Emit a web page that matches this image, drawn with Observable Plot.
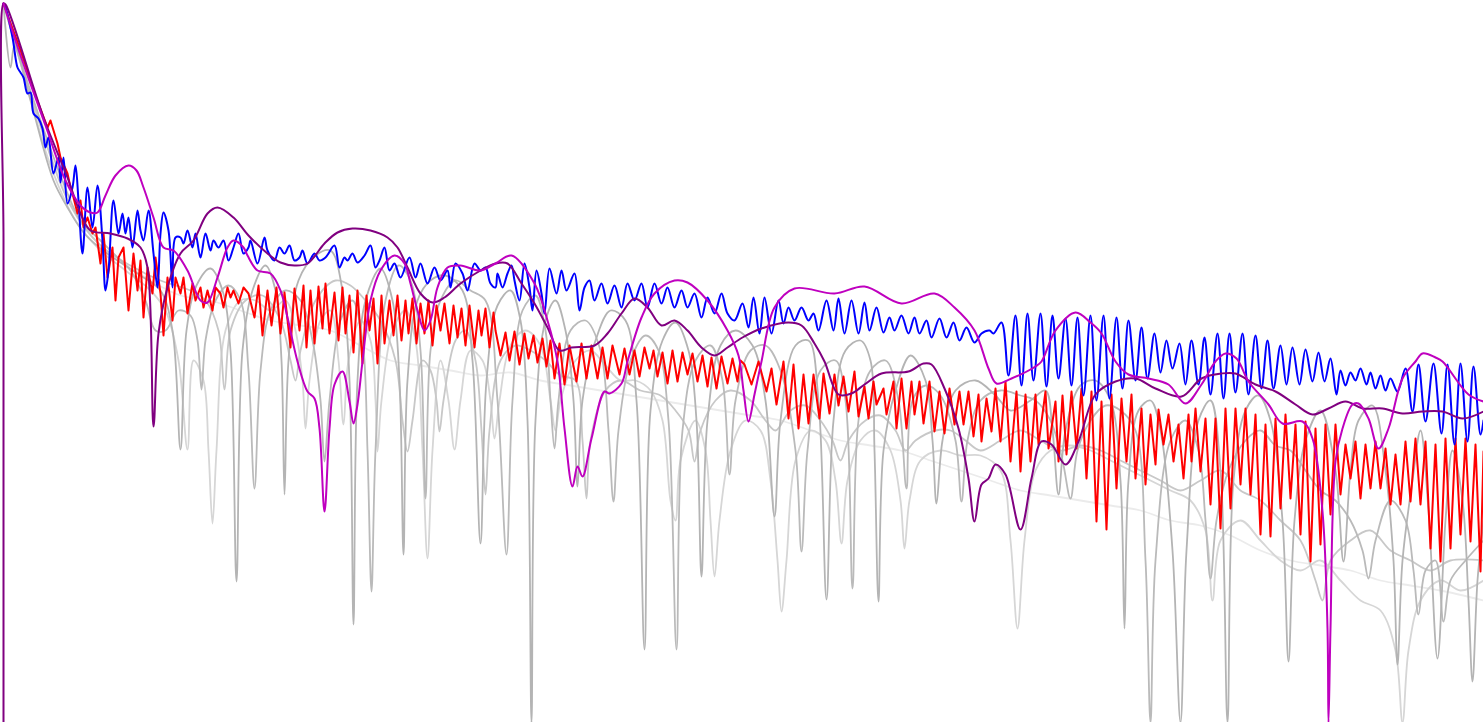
<!DOCTYPE html>
<html><head><meta charset="utf-8">
<script src="https://cdn.jsdelivr.net/npm/d3@7"></script>
<script src="https://cdn.jsdelivr.net/npm/@observablehq/plot@0.6"></script>
<style>html,body{margin:0;padding:0;background:#fff;overflow:hidden}</style>
</head><body><div id="chart"></div>
<script>
// Series values: [frequency, level] pairs (level grows downward)
const grayA = [[3,3],[10,67],[14,45],[30,100],[53,180],[67,207],[83,232],[100,248],[120,262],[140,275],[160,290],[172,330],[180,449],[186,330],[196,285],[210,268],[222,290],[230,350],[236,581],[242,350],[252,290],[265,265],[275,290],[281,360],[284,494],[288,360],[298,280],[315,255],[330,250],[342,290],[349,380],[353,624],[357,380],[365,300],[380,268],[392,300],[399,380],[403,554],[407,380],[417,300],[430,280],[445,275],[462,290],[472,360],[480,543],[486,380],[497,305],[510,290],[520,320],[527,420],[531,722],[535,420],[545,320],[555,300],[565,330],[573,400],[577,486],[582,400],[595,340],[610,310],[625,320],[636,400],[644,649],[650,410],[662,340],[675,322],[688,350],[696,420],[701,576],[707,420],[720,345],[735,330],[752,345],[765,400],[774,516],[780,420],[795,345],[808,340],[818,400],[826,599],[833,420],[845,350],[860,340],[870,360],[874,450],[878,601],[883,450],[895,390],[910,355],[925,380],[932,440],[936,503],[942,440],[955,390],[975,380],[995,395],[1010,410],[1030,400],[1045,390],[1052,430],[1058,494],[1065,430],[1080,385],[1095,380],[1110,400],[1120,480],[1124,628],[1128,480],[1138,410],[1150,400],[1160,430],[1172,550],[1180,722],[1186,550],[1198,420],[1210,400],[1220,470],[1227,722],[1233,480],[1245,410],[1258,395],[1270,420],[1282,520],[1288,661],[1294,520],[1305,440],[1320,410],[1335,470],[1343,561],[1350,470],[1358,420],[1372,405],[1385,470],[1393,560],[1397,664],[1402,560],[1412,480],[1420,430],[1428,510],[1437,658],[1445,520],[1452,450],[1462,500],[1468,600],[1472,681],[1477,580],[1483,520]];

const grayB = [[3,3],[20,60],[40,120],[60,175],[80,220],[100,240],[115,255],[130,270],[145,300],[155,330],[165,330],[178,310],[190,315],[197,340],[201,389],[205,340],[215,300],[228,285],[240,300],[248,370],[254,488],[260,370],[270,310],[285,290],[300,300],[312,340],[320,400],[324,461],[329,400],[340,320],[352,300],[362,340],[367,450],[371,591],[375,450],[385,300],[398,265],[410,280],[420,350],[425,498],[430,350],[440,300],[455,280],[470,290],[485,300],[497,400],[506,554],[512,400],[522,310],[535,295],[545,330],[550,400],[554,448],[558,400],[570,330],[585,320],[600,350],[608,430],[613,501],[618,430],[630,360],[645,335],[658,350],[668,420],[676,649],[682,430],[695,360],[710,345],[722,380],[729,474],[735,400],[750,350],[765,345],[780,370],[795,450],[801,551],[807,450],[820,370],[835,360],[845,400],[852,588],[858,420],[870,370],[885,360],[898,400],[906,488],[912,400],[925,385],[940,395],[955,440],[961,501],[967,440],[980,400],[1000,390],[1020,395],[1035,400],[1050,420],[1062,460],[1070,498],[1077,450],[1090,420],[1105,405],[1120,410],[1135,430],[1145,560],[1150,722],[1155,560],[1170,440],[1185,420],[1198,450],[1205,520],[1210,578],[1216,520],[1228,470],[1245,440],[1260,430],[1275,445],[1290,450],[1305,470],[1320,490],[1335,500],[1350,520],[1362,550],[1368,578],[1375,540],[1390,500],[1405,520],[1413,570],[1418,614],[1425,570],[1435,560],[1443,621],[1450,580],[1465,560],[1483,540]];

const grayC = [[3,3],[35,110],[70,205],[100,245],[130,265],[160,280],[190,290],[205,300],[218,330],[224,389],[230,330],[245,300],[262,295],[280,320],[290,360],[295,380],[300,350],[315,300],[335,280],[350,285],[365,300],[380,320],[395,360],[402,420],[407,451],[412,420],[422,360],[430,370],[436,400],[439,431],[443,400],[455,340],[465,330],[475,360],[481,430],[485,494],[489,430],[500,360],[515,345],[530,350],[545,360],[560,375],[575,380],[582,440],[586,498],[590,440],[605,390],[620,380],[640,390],[660,395],[675,410],[688,430],[694,461],[700,430],[715,400],[730,390],[750,400],[765,420],[775,430],[790,410],[805,405],[820,420],[832,440],[840,460],[848,440],[865,420],[880,415],[895,430],[905,450],[915,440],[935,430],[950,430],[965,440],[980,450],[1000,440],[1020,430],[1040,440],[1060,450],[1080,445],[1100,450],[1120,460],[1140,470],[1160,480],[1180,490],[1200,480],[1220,470],[1240,490],[1260,500],[1280,520],[1300,540],[1315,580],[1322,600],[1330,560],[1350,540],[1370,530],[1390,550],[1410,560],[1430,570],[1450,560],[1483,560]];

const grayD = [[3,3],[25,80],[50,165],[75,220],[100,250],[125,270],[150,290],[165,310],[178,360],[187,449],[193,360],[203,380],[208,450],[212,523],[216,450],[225,330],[240,300],[255,300],[270,310],[285,300],[295,330],[302,380],[305,428],[309,380],[320,320],[330,310],[338,360],[343,424],[348,360],[360,320],[370,340],[375,400],[377,451],[381,400],[392,330],[405,310],[415,340],[422,450],[427,558],[432,450],[440,360],[448,400],[454,449],[460,400],[470,350],[482,360],[490,400],[494,438],[499,400],[510,345],[525,330],[540,345],[550,400],[555,430],[560,400],[575,360],[590,350],[605,365],[620,380],[635,380],[650,390],[662,420],[670,500],[675,520],[680,460],[695,420],[705,450],[710,520],[714,576],[719,520],[730,450],[745,420],[760,430],[770,480],[777,560],[781,611],[786,560],[795,460],[810,430],[825,440],[835,480],[841,543],[847,480],[860,440],[875,430],[890,450],[900,500],[904,548],[909,500],[920,460],[940,450],[960,455],[980,455],[1000,470],[1010,540],[1017,628],[1024,540],[1035,470],[1050,450],[1070,445],[1090,450],[1110,460],[1130,470],[1150,480],[1170,490],[1190,500],[1205,530],[1212,600],[1220,540],[1240,520],[1260,540],[1280,560],[1300,570],[1320,560],[1340,580],[1360,600],[1380,610],[1395,650],[1402,722],[1408,650],[1420,600],[1440,580],[1460,590],[1483,580]];

const grayE = [[3,3],[30,95],[60,180],[90,235],[120,260],[150,280],[180,295],[210,300],[240,310],[270,320],[300,325],[330,330],[360,345],[390,360],[420,365],[450,370],[480,375],[510,372],[540,380],[570,385],[600,390],[630,395],[660,400],[690,405],[720,410],[750,415],[780,420],[810,430],[840,440],[870,445],[900,450],[930,460],[960,470],[990,480],[1020,490],[1050,495],[1080,500],[1110,505],[1140,510],[1170,520],[1200,525],[1230,535],[1260,550],[1290,560],[1320,565],[1350,570],[1380,580],[1410,585],[1440,590],[1483,600]];

const redSeries = [[3,3],[20,50],[35,95],[47,127],[50,120],[57,143],[60,157],[67,173],[70,187],[73,197],[77,213],[80,200],[83,227],[87,217],[92,233],[95,227],[100,263],[103,233],[107,277],[112,247],[115,300],[118,257],[123,247],[128,310],[133,253],[137,290],[140,260],[143,317],[147,267],[152,293],[155,257],[160,293],[163,335],[167,277],[172,320],[175,277],[180,293],[183,277],[187,313],[192,283],[195,300],[200,287],[203,307],[207,290],[212,310],[215,287],[220,293],[223,307],[227,287],[230,297],[233,290],[238,303],[243,287],[248,293],
[254,317],[258,285],[262,335],[267,290],[271,325],[276,287],[280,333],[284,292],[290,347],[294,288],[299,330],[303,285],[306,347],[310,290],[314,343],[318,286],[322,328],[325,283],[329,333],[334,292],[338,340],[342,287],[345,333],[349,295],[353,352],[357,290],[362,363],[366,295],[369,330],[373,298],[377,363],[381,295],[384,343],[389,300],[393,335],[397,295],[401,340],[405,300],[408,333],[412,298],[416,343],[420,303],[424,333],[428,300],[432,345],[436,305],[440,330],[444,303],[449,343],[453,305],[457,337],[461,308],[465,345],[469,305],[474,347],[478,310],[481,335],[485,308],[489,347],[493,312],
[495,330],[500,355],[505,332],[509,360],[514,331],[519,364],[524,333],[528,358],[533,335],[537,362],[542,338],[546,366],[550,340],[554,378],[559,343],[564,384],[569,345],[576,381],[581,343],[586,378],[591,345],[597,378],[602,347],[607,378],[612,345],[619,374],[624,348],[629,374],[634,350],[639,376],[644,347],[649,368],[653,350],[657,376],[662,352],[667,383],[672,350],[677,381],[682,352],[687,374],[692,353],[697,381],[702,355],[707,386],[711,357],[716,388],[721,356],[727,383],[732,358],[737,381],[740,360],
[744,364],[751,384],[758,361],[766,391],[771,368],[776,404],[783,361],[788,418],[793,364],[798,428],[803,374],[808,423],[813,374],[819,418],[823,373],[829,413],[834,374],[838,405],[843,376],[848,411],[854,371],[858,416],[864,386],[868,418],[873,381],[876,404],[883,388],[886,414],[893,381],[896,428],[901,378],[906,428],[911,381],[914,414],[919,381],[923,423],[929,381],[934,431],[939,391],[944,433],[949,388],[954,424],[959,391],[963,424],[968,391],[973,436],[978,394],[981,441],[986,398],
[991,431],[995,388],[1000,441],[1005,381],[1010,461],[1016,391],[1020,471],[1025,394],[1030,461],[1035,394],[1038,444],[1045,391],[1048,448],[1055,401],[1058,461],[1062,395],[1066,454],[1071,391],[1076,448],[1081,388],[1086,478],[1091,391],[1096,521],[1101,401],[1106,529],[1111,394],[1116,488],[1121,398],[1126,461],[1131,394],[1135,478],[1141,408],[1145,484],[1150,414],[1155,464],[1158,409],[1163,444],[1168,414],[1173,461],[1178,424],[1183,478],[1188,414],[1191,461],[1195,408],[1200,471],[1205,418],[1210,504],[1215,418],[1220,528],[1225,408],[1230,508],
[1235,408],[1240,484],[1245,408],[1250,494],[1255,414],[1260,534],[1265,424],[1270,536],[1275,418],[1280,508],[1285,414],[1290,498],[1295,424],[1300,534],[1305,421],[1310,561],[1315,428],[1320,544],[1325,424],[1330,514],[1335,424],[1340,494],[1345,444],[1350,478],[1355,441],[1360,498],[1365,444],[1370,488],[1375,441],[1380,488],[1385,448],[1390,504],[1395,454],[1400,504],[1405,441],[1410,501],[1415,438],[1420,504],[1425,441],[1430,548],[1435,444],[1440,561],[1445,438],[1450,548],[1455,438],[1460,534],[1465,438],[1470,541],[1475,444],[1480,571],[1483,451]];

const blueSeries = [[3,3],[5,7],[12,37],[17,67],[20,72],[23,77],[27,93],[30,92],[33,113],[38,118],[42,128],[45,147],[48,137],[53,173],[58,157],[60,182],[63,157],[67,203],[72,187],[75,165],[78,200],[82,253],[87,187],[92,227],[97,185],[102,240],[105,290],[108,270],[113,200],[118,233],[122,213],[125,233],[128,217],[132,247],[137,210],[140,230],[143,240],[148,210],[153,253],[157,287],[160,233],[163,212],[168,230],[172,287],[175,237],[180,237],[183,243],[187,230],[192,247],[195,233],[200,257],[205,233],[210,250],[213,240],[218,247],[223,240],[228,260],[233,247],[238,233],[243,253],[248,247],
[250,240],[257,263],[264,237],[267,250],[274,260],[279,247],[284,253],[289,245],[294,260],[299,257],[302,250],[307,263],[314,253],[319,260],[325,257],[334,245],[339,267],[344,257],[347,260],[352,253],[357,262],[364,255],[370,245],[375,267],[379,260],[384,247],[389,270],[394,263],[400,277],[409,257],[415,277],[420,263],[427,283],[434,267],[440,280],[447,270],[450,287],[455,263],[462,273],[467,290],[474,263],[480,270],[485,267],[490,283],[495,287],
[497,273],[502,287],[507,273],[511,265],[514,280],[519,300],[524,263],[529,287],[532,310],[536,270],[541,293],[544,313],[549,268],[556,293],[561,270],[566,290],[574,273],[579,310],[584,287],[589,280],[594,300],[601,283],[607,303],[614,285],[621,307],[627,283],[634,300],[641,283],[647,307],[654,283],[661,303],[667,287],[674,307],[681,290],[687,307],[694,293],[701,317],[707,297],[714,313],[721,293],[727,313],[734,320],[742,303],
[748,327],[753,297],[759,333],[764,297],[771,333],[778,300],[783,323],[788,307],[794,320],[801,307],[808,320],[813,313],[818,330],[826,300],[833,330],[838,298],[844,333],[851,300],[858,333],[864,302],[869,330],[876,307],[883,332],[889,317],[894,330],[901,315],[908,333],[914,317],[919,333],[926,320],[931,337],[939,318],[946,337],[953,322],[959,340],[966,327],[974,342],[981,333],[989,330],[993,333],
[1001,322],[1008,375],[1015,315],[1021,385],[1027,313],[1033,380],[1040,313],[1046,386],[1052,315],[1058,378],[1065,318],[1071,385],[1077,317],[1083,395],[1090,315],[1096,400],[1103,315],[1109,398],[1116,317],[1122,388],[1128,320],[1135,380],[1141,327],[1147,378],[1154,333],[1160,372],[1166,340],[1172,368],[1179,343],[1185,384],[1191,340],[1198,384],[1204,337],[1210,394],[1217,333],[1223,398],[1229,333],[1235,392],
[1242,333],[1248,394],[1255,335],[1261,388],[1267,340],[1273,388],[1280,345],[1286,384],[1292,347],[1299,384],[1305,349],[1312,381],[1318,352],[1324,381],[1330,358],[1336,394],[1340,370],[1345,385],[1350,372],[1355,380],[1360,368],[1366,384],[1370,372],[1375,388],[1380,375],[1385,390],[1390,378],[1397,391],[1405,368],[1412,411],[1418,364],[1425,421],[1433,363],[1441,433],[1447,364],[1454,444],[1460,363],[1467,441],[1473,366],[1480,434],[1483,420]];

const purpleSeries = [[3,722],[3,480],[3,240],[3,3],[5,4],[43,117],[67,177],[80,213],[90,230],[110,233],[127,238],[140,247],[147,267],[153,426],[158,333],[167,287],[180,253],[193,240],[207,213],[217,207],[233,217],[248,235],[267,253],[280,262],[294,265],[307,263],[324,243],[337,232],[352,228],[370,230],[387,237],[397,247],[407,267],[420,293],[432,302],[444,297],[460,283],[480,270],[495,263],[507,263],[521,283],[534,303],[547,327],[559,350],[571,347],[594,345],[607,333],[621,313],[634,298],[647,307],[661,325],[674,320],[687,330],[701,347],[714,355],[727,347],[742,337],[761,328],[788,322],[801,325],[814,343],[824,361],[838,394],[851,393],[864,384],[881,373],[908,371],[923,363],[931,364],[944,388],[958,428],[968,478],[974,521],[981,484],[988,478],[995,464],[1005,474],[1020,529],[1031,478],[1041,441],[1051,444],[1065,464],[1078,441],[1095,394],[1115,381],[1135,378],[1155,388],[1181,396],[1201,378],[1221,373],[1235,373],[1255,384],[1275,391],[1295,404],[1312,414],[1328,408],[1345,401],[1362,408],[1382,408],[1402,413],[1422,411],[1442,411],[1462,418],[1483,411]];

const magentaSeries = [[3,3],[20,55],[45,125],[65,180],[80,205],[90,212],[97,212],[105,195],[115,175],[128,165],[136,170],[143,187],[153,217],[163,247],[173,250],[187,270],[200,300],[207,302],[217,277],[227,247],[233,240],[243,247],[247,255],[257,270],[270,273],[280,290],[287,317],[297,361],[307,391],[314,398],[319,428],[324,511],[329,428],[334,384],[342,371],[349,401],[353,423],[357,404],[362,361],[370,300],[380,270],[394,255],[404,263],[410,283],[417,310],[424,330],[430,320],[437,287],[447,267],[460,265],[480,270],[495,263],[511,255],[534,283],[547,320],[557,361],[564,428],[572,486],[577,466],[582,476],[591,438],[604,391],[609,393],[621,383],[627,361],[641,317],[654,293],[674,280],[687,282],[707,300],[727,330],[738,355],[743,390],[748,421],[754,394],[761,361],[774,307],[794,288],[834,293],[864,286],[901,303],[934,293],[954,307],[974,330],[988,368],[996,383],[1011,378],[1035,366],[1041,361],[1055,330],[1075,312],[1090,322],[1101,333],[1115,361],[1128,374],[1148,378],[1168,384],[1185,403],[1201,384],[1215,361],[1225,353],[1236,358],[1248,381],[1268,404],[1282,423],[1302,421],[1312,438],[1322,511],[1327,628],[1328,722],[1330,628],[1335,461],[1342,428],[1352,404],[1358,403],[1368,418],[1378,448],[1388,428],[1402,378],[1415,361],[1422,353],[1435,357],[1442,361],[1468,394],[1483,401]];

const series = [
  {name: "grayE", pts: grayE, color: "#ebebeb", curve: "catmull-rom"},
  {name: "grayD", pts: grayD, color: "#d6d6d6", curve: "catmull-rom"},
  {name: "grayC", pts: grayC, color: "#c8c8c8", curve: "catmull-rom"},
  {name: "grayB", pts: grayB, color: "#bababa", curve: "catmull-rom"},
  {name: "grayA", pts: grayA, color: "#b4b4b4", curve: "catmull-rom"},
  {name: "red", pts: redSeries, color: "#ff0000", curve: "linear"},
  {name: "blue", pts: blueSeries, color: "#0000ff", curve: "catmull-rom"},
  {name: "purple", pts: purpleSeries, color: "#800080", curve: "catmull-rom"},
  {name: "magenta", pts: magentaSeries, color: "#bf00bf", curve: "catmull-rom"}
];

const chart = Plot.plot({
  width: 1483, height: 722,
  marginTop: 0, marginRight: 0, marginBottom: 0, marginLeft: 0,
  x: {domain: [0, 1483], axis: null},
  y: {domain: [0, 722], reverse: true, axis: null},
  marks: series.map(s => Plot.line(s.pts, {
    x: d => d[0], y: d => d[1], stroke: s.color, curve: s.curve,
    strokeWidth: s.name.startsWith("gray") ? 1.8 : 2, strokeLinejoin: "round"
  }))
});
document.getElementById("chart").appendChild(chart);
</script></body></html>
